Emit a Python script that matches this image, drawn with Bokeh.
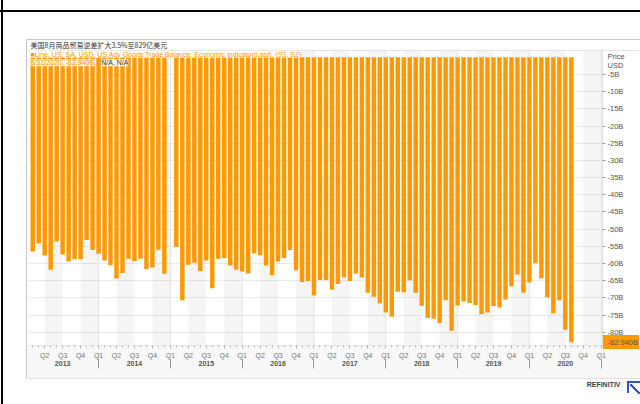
from bokeh.plotting import figure
from bokeh.models import (ColumnDataSource, FixedTicker, CustomJSTickFormatter, Range1d,
                          LinearAxis, Label, BoxAnnotation, Span, Title)
from bokeh.embed import file_html
from bokeh.resources import INLINE

# ---------------- data (US advance goods trade balance, USD billions) ----------------
years = [2013, 2014, 2015, 2016, 2017, 2018, 2019, 2020]
start_month = {2013: 2}  # series begins in Feb 2013
bal_2013 = [-56.5, -54.2, -57.7, -61.8, -53.6, -57.4, -59.4, -58.8, -58.8, -53.2, -56.1]
bal_2014 = [-57.2, -59.1, -60.5, -64.4, -62.8, -58.6, -59.3, -58.6, -61.7, -61.2, -56.0, -63.0]
bal_2015 = [None, -55.2, -70.7, -60.4, -59.8, -62.2, -59.1, -67.2, -58.6, -58.4, -60.6, -61.8]
bal_2016 = [-62.3, -62.9, -57.0, -57.6, -60.6, -63.4, -59.4, -58.4, -56.1, -62.0, -65.4, -65.1]
bal_2017 = [-69.3, -64.8, -64.8, -67.6, -66.0, -64.0, -65.1, -62.9, -64.1, -68.5, -69.7, -71.6]
bal_2018 = [-74.3, -75.5, -68.2, -68.4, -64.9, -68.5, -72.3, -75.9, -76.1, -77.4, -70.7, -79.6]
bal_2019 = [-72.2, -71.1, -71.5, -72.1, -74.7, -74.3, -72.4, -72.8, -70.5, -66.6, -63.2, -68.5]
bal_2020 = [-65.5, -59.9, -64.3, -69.8, -74.5, -70.7, -79.3, -82.94]
series = {2013: bal_2013, 2014: bal_2014, 2015: bal_2015, 2016: bal_2016,
          2017: bal_2017, 2018: bal_2018, 2019: bal_2019, 2020: bal_2020}

last_value = -82.94
last_date = "8/31/2020"
y_ticks = [-5, -10, -15, -20, -25, -30, -35, -40, -45, -50, -55, -60, -65, -70, -75, -80]
quarter_labels = ["Q1", "Q2", "Q3", "Q4"]

title_text = "美国8月商品贸易逆差扩大3.5%至829亿美元"
legend_line1 = "■Line, US, SA, USD, US Adv Goods Trade Balance, Economic Indicator(Last), (S1, S2)"
legend_line2a = "%s, %.3fB," % (last_date, last_value)
legend_line2b = "N/A, N/A"
brand = "REFINITIV"

# month index: 0 = Jan 2014
xs, vals = [], []
for yr in years:
    m0 = start_month.get(yr, 1)
    for k, v in enumerate(series[yr]):
        if v is None:
            continue
        xs.append((yr - 2014) * 12 + (m0 + k - 1))
        vals.append(v)
src = ColumnDataSource(dict(x=xs, val=vals))

ORANGE = "#ff9900"
FONT = "Liberation Sans"
W, H = 640, 404
FL, FR, FT, FB = 28, 604, 50, 345   # plot frame edges (px)

# pixel -> data helpers (used only to place texts)
PX0, PXS = 98.3, 6.005
PY0, PYS = 56.82, 3.436
def dx(px):
    return (px - PX0) / PXS
def dy(py):
    return -(py - PY0) / PYS

# page decorations (frame lines, widget border, footer band, value badge, logo) as CSS
LOGO = "#2f4fe0"
deco = [
    ("linear-gradient(#000,#000)", "0px 10px", "640px 2px"),
    ("linear-gradient(#000,#000)", "1px 0px", "2px 404px"),
    ("linear-gradient(%s,%s)" % (ORANGE, ORANGE), "603px 335px", "36px 14px"),
    ("linear-gradient(%s,%s)" % (LOGO, LOGO), "627px 381px", "2px 12px"),
    ("linear-gradient(%s,%s)" % (LOGO, LOGO), "627px 381px", "13px 2px"),
    ("linear-gradient(to top right, transparent calc(50%% - 1px), %s calc(50%% - 1px), %s calc(50%% + 1px), transparent calc(50%% + 1px))" % (LOGO, LOGO), "630px 384px", "10px 10px"),
    ("linear-gradient(#c8c8c8,#c8c8c8)", "26px 39px", "614px 1px"),
    ("linear-gradient(#c8c8c8,#c8c8c8)", "26px 39px", "1px 339px"),
    ("linear-gradient(#e2e2e2,#e2e2e2)", "26px 378px", "614px 1px"),
    ("linear-gradient(#e4e4e4,#e4e4e4)", "27px 50px", "613px 1px"),
    ("linear-gradient(#f8f8f8,#f8f8f8)", "27px 345px", "613px 33px"),
]
styles = {
    "background-color": "white",
    "background-image": ", ".join(d[0] for d in deco),
    "background-position": ", ".join(d[1] for d in deco),
    "background-size": ", ".join(d[2] for d in deco),
    "background-repeat": "no-repeat",
}

p = figure(width=W, height=H, output_backend="svg", toolbar_location=None,
           x_range=Range1d(dx(FL), dx(FR)), y_range=Range1d(dy(FB), dy(FT)),
           y_axis_location="right", min_border_left=FL, min_border_right=W - FR,
           min_border_top=FT, min_border_bottom=H - FB, outline_line_color=None,
           background_fill_color=None, border_fill_color=None,
           title=title_text, styles=styles)

p.title.text_font = "Noto Sans CJK SC"
p.title.text_font_size = "7px"
p.title.text_font_style = "normal"
p.title.text_color = "#333333"
p.title.align = "left"
p.title.offset = 2
p.title.standoff = 2

# quarter shading (Q2 and Q4)
q_first = (years[0] - 2014) * 12
q_last = (years[-1] - 2014 + 1) * 12
for s in range(q_first + 3, q_last, 6):
    p.add_layout(BoxAnnotation(left=s, right=s + 3, fill_color="#000000", fill_alpha=0.04,
                               line_color=None, level="underlay"))
for yb in range(0, q_last + 1, 12):
    p.add_layout(Span(location=yb, dimension="height", line_color="#e4e4e4",
                      line_width=1, level="underlay"))

p.vbar(x="x", width=0.74, top=0, bottom="val", source=src,
       fill_color=ORANGE, line_color=None)

# grids
p.xgrid.visible = False
p.ygrid.ticker = FixedTicker(ticks=y_ticks)
p.ygrid.grid_line_color = "#ebebeb"

# right axis: value ticks + header ("Price", "USD") + last-value badge text
price_y, usd_y = dy(56), dy(65)
ya = p.yaxis[0]
ya.ticker = FixedTicker(ticks=y_ticks + [price_y, usd_y, last_value], minor_ticks=y_ticks)
ya.formatter = CustomJSTickFormatter(
    args=dict(price=price_y, usd=usd_y, last=last_value, last_label="%.3fB" % last_value),
    code="""
    if (Math.abs(tick - last) < 1e-6) return last_label;
    if (Math.abs(tick - price) < 1e-6) return 'Price';
    if (Math.abs(tick - usd) < 1e-6) return 'USD';
    return tick + 'B';
    """)
ya.major_label_text_font = FONT
ya.major_label_text_font_size = "7.5px"
ya.major_label_text_color = "#555555"
ya.major_tick_in = 0
ya.major_tick_out = 3
ya.major_tick_line_color = None
ya.minor_tick_in = 0
ya.minor_tick_out = 3
ya.minor_tick_line_color = "#999999"
ya.axis_line_color = "#e0e0e0"
ya.major_label_standoff = 2

# bottom quarter axis
xa = p.xaxis[0]
xa.ticker = FixedTicker(ticks=list(range(q_first + 3, q_last + 1, 3)),
                        minor_ticks=list(range(q_first + 1, q_last + 1)))
xa.formatter = CustomJSTickFormatter(args=dict(labels=quarter_labels),
    code="const q = ((Math.round(tick/3) % 4) + 4) % 4; return labels[q];")
xa.major_label_text_font = FONT
xa.major_label_text_font_size = "7px"
xa.major_label_text_color = "#777777"
xa.major_tick_in = 0
xa.major_tick_out = 3
xa.minor_tick_in = 0
xa.minor_tick_out = 2
xa.major_tick_line_color = "#aaaaaa"
xa.minor_tick_line_color = "#bbbbbb"
xa.axis_line_color = "#e6e6e6"
xa.major_label_standoff = 3

# year axis (labels at year centres, separators as minor ticks at year boundaries)
year_axis = LinearAxis(
    ticker=FixedTicker(ticks=[(yr - 2014) * 12 + 6 for yr in years],
                       minor_ticks=list(range(0, q_last + 1, 12))),
    formatter=CustomJSTickFormatter(args=dict(years=years),
        code="const k = Math.floor((tick + 12) / 12); return String(years[k]);"),
    major_label_text_font=FONT, major_label_text_font_size="7px",
    major_label_text_font_style="bold", major_label_text_color="#555555",
    major_tick_line_color=None, major_tick_in=0, major_tick_out=0,
    minor_tick_line_color="#999999", minor_tick_in=3, minor_tick_out=7,
    axis_line_color=None, major_label_standoff=-8)
p.add_layout(year_axis, "below")

# brand
p.add_layout(Title(text=brand, align="right", offset=-18, standoff=21,
                   text_font=FONT, text_font_size="7px", text_font_style="bold",
                   text_color="#444444"), "below")

# in-plot legend texts
p.add_layout(Label(x=dx(30), y=dy(53.5), text=legend_line1, text_font=FONT,
                   text_font_size="7px", text_color=ORANGE, text_baseline="middle",
                   background_fill_color="white", background_fill_alpha=0.85))
p.add_layout(Label(x=dx(30), y=dy(62.3), text=legend_line2a, text_font=FONT,
                   text_font_size="7px", text_color=ORANGE, text_baseline="middle",
                   background_fill_color="white", background_fill_alpha=0.85))
p.add_layout(Label(x=dx(101), y=dy(62.3), text=legend_line2b, text_font=FONT,
                   text_font_size="7px", text_color="#333333", text_baseline="middle",
                   background_fill_color="white", background_fill_alpha=0.85))

open("out.html", "w").write(file_html(p, INLINE))
